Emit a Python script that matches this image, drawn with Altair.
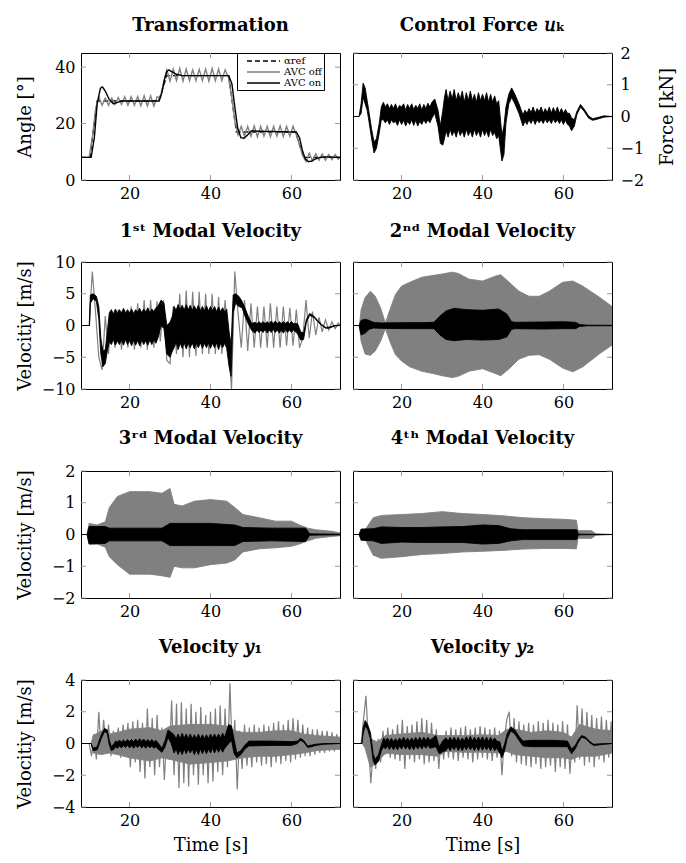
import altair as alt
import pandas as pd

# ----------------------------------------------------------------- data
def grid(start, step, n):
    return [round(start + step * i, 2) for i in range(n)]

# sampling grids of the oscillating "AVC off" traces
T08 = [8.0] + grid(10.0, 0.8, 78) + [72.0]
T06 = [8.0] + grid(10.0, 0.6, 104) + [72.0]

# --- Transformation (angle, deg)
ref_t = [8, 10.2, 12.0, 27.2, 29.2, 44.5, 46.4, 61.0, 63.0, 72]
ref_v = [8, 8, 28, 28, 37, 37, 17, 17, 8, 8]

ang_off = [8,
           8, 15, 25, 29.5, 26.5, 29, 26.5, 29, 26.8, 29.2,
           26.8, 29.5, 26.5, 29.5, 26.5, 29.6, 26.3, 29.8, 26.2, 29.8,
           26.2, 29.5, 29, 34.5, 39, 35, 39.3, 35.2, 39.5, 35,
           39.3, 35.2, 39, 35.2, 39.2, 35.3, 39.3, 35, 39.5, 35.2,
           39.3, 35.2, 39, 36.5, 30, 21, 16, 19, 15.5, 19,
           15.5, 19.2, 15.3, 19, 15.5, 19, 15.3, 19, 15.5, 19.2,
           15.4, 19, 15.5, 19, 16, 12.5, 8.5, 6.5, 9.5, 6.8,
           9.3, 7.0, 9.2, 7.0, 9.0, 7.2, 9.0, 7.3,
           8]

on_t = [8, 10.5, 11.3, 12.0, 12.8, 13.3, 14.0, 15.0, 16.0, 17.0, 18.0, 27.3, 28.0, 28.6, 29.2,
        29.7, 30.5, 31.5, 33.0, 44.5, 45.3, 46.0, 46.7, 47.5, 48.3, 49.2, 50.2, 51.5, 61.2,
        62.0, 62.7, 63.4, 64.2, 65.0, 66.0, 67.0, 68.5, 72]
on_v = [8, 8, 15, 27, 32.5, 33, 31.5, 28.5, 27, 27.5, 28, 28, 31, 35.5, 38.5,
        39, 38.3, 37.5, 37, 37, 34, 26, 18.5, 15, 14.8, 16, 17.5, 17.3, 17,
        15, 10.5, 7.5, 6.5, 6.7, 7.5, 8, 8.2, 8]

# --- Control force u_k (kN): rows of (time, lower, upper) of the AVC-on trace
uk_on = [
    (8, 0, 0), (9.5, 0, 0), (10.0, 0.1, 0.4), (10.5, 0.6, 1.05), (11.0, 0.4, 0.9),
    (11.5, 0.2, 0.5), (12.0, -0.2, 0.1), (12.6, -0.7, -0.4), (13.2, -1.15, -0.8),
    (13.8, -1.0, -0.7), (14.5, -0.5, -0.2), (15.0, -0.1, 0.3), (15.5, -0.1, 0.45),
    (16.0, -0.2, 0.3), (16.5, -0.1, 0.4), (17.0, -0.25, 0.25), (17.5, -0.1, 0.38),
    (18.0, -0.2, 0.25), (18.5, -0.15, 0.4), (19.0, -0.28, 0.22), (19.5, -0.1, 0.35),
    (20.0, -0.25, 0.3), (20.5, -0.12, 0.4), (21.0, -0.3, 0.2), (21.5, -0.15, 0.38),
    (22.0, -0.25, 0.25), (22.5, -0.1, 0.4), (23.0, -0.28, 0.22), (23.5, -0.12, 0.35),
    (24.0, -0.3, 0.25), (24.5, -0.15, 0.4), (25.0, -0.25, 0.2), (25.5, -0.1, 0.38),
    (26.0, -0.22, 0.25), (26.5, -0.1, 0.42), (27.0, -0.2, 0.3), (27.5, -0.05, 0.45),
    (28.2, 0.1, 0.55), (29.0, -0.3, 0.2), (29.6, -0.85, -0.3), (30.2, -0.9, 0.2),
    (30.6, -0.7, 0.6), (31.0, -0.45, 0.85), (31.5, -0.65, 0.5), (32.0, -0.4, 0.8),
    (32.5, -0.6, 0.55), (33.0, -0.45, 0.85), (33.5, -0.65, 0.5), (34.0, -0.4, 0.75),
    (34.5, -0.6, 0.55), (35.0, -0.45, 0.8), (35.5, -0.65, 0.45), (36.0, -0.4, 0.75),
    (36.5, -0.6, 0.5), (37.0, -0.45, 0.8), (37.5, -0.65, 0.5), (38.0, -0.4, 0.7),
    (38.5, -0.6, 0.45), (39.0, -0.45, 0.75), (39.5, -0.65, 0.5), (40.0, -0.4, 0.7),
    (40.5, -0.6, 0.5), (41.0, -0.45, 0.75), (41.5, -0.65, 0.45), (42.0, -0.4, 0.7),
    (42.5, -0.6, 0.45), (43.0, -0.5, 0.65), (43.5, -0.7, 0.4), (44.0, -0.6, 0.5),
    (44.8, -1.4, -0.6), (45.3, -1.2, -0.3), (45.8, -0.2, 0.3), (46.5, 0.4, 0.7),
    (47.2, 0.6, 0.9), (48.0, 0.4, 0.7), (49.0, 0.1, 0.4), (50.0, -0.3, 0.05),
    (50.5, -0.15, 0.2), (51.0, -0.25, 0.1), (51.5, -0.1, 0.25), (52.0, -0.22, 0.12),
    (52.5, -0.08, 0.3), (53.0, -0.25, 0.1), (53.5, -0.1, 0.25), (54.0, -0.2, 0.15),
    (54.5, -0.1, 0.3), (55.0, -0.22, 0.1), (55.5, -0.08, 0.25), (56.0, -0.2, 0.12),
    (56.5, -0.1, 0.3), (57.0, -0.22, 0.1), (57.5, -0.08, 0.28), (58.0, -0.2, 0.12),
    (58.5, -0.1, 0.3), (59.0, -0.22, 0.1), (59.5, -0.1, 0.25), (60.0, -0.25, 0.1),
    (60.5, -0.12, 0.22), (61.0, -0.25, 0.1), (61.5, -0.3, 0.1), (62.0, -0.45, -0.05),
    (62.7, -0.3, -0.1), (63.3, 0.05, 0.15), (64.2, 0.3, 0.38), (65.2, 0.15, 0.22),
    (66.2, -0.05, 0.02), (67.2, -0.12, -0.07), (68.5, -0.08, -0.03), (70, -0.02, 0.02),
    (72, 0, 0)]

# --- 1st modal velocity (m/s)
m1_off = [0,
          0, 8.5, 2, -5, -7, 1.5, -4.5, 2, -3.5, 2.5,
          -3.8, 2.5, -3.5, 3, -3.8, 3.5, -3.5, 4, -3.8, 4,
          -3.5, 3.8, -2.5, 4, -5.5, -6, 3, -4.5, 5, -5,
          5.5, -5, 5.3, -4.8, 5.3, -4.5, 5, -4.5, 5, -4.5,
          4.5, -4.5, 4, -3, -10, 8.5, 2, -3.5, 4, -4,
          3.5, -3.5, 3, -3.5, 3, -3.5, 3.5, -3.5, 3, -3.5,
          3, -3.2, 2.8, -3.2, 2.5, -3.5, -2, 4, -2, 2.2,
          -1.5, 1.3, -1, 0.9, -0.7, 0.6, -0.5, 0.4,
          0]
m1_on = [
    (8, 0, 0), (10.1, 0, 0), (10.3, 3.5, 4.8), (11.0, 4.2, 5.0), (11.8, 3.8, 4.6),
    (12.4, 1, 3), (12.9, -4.5, -2), (13.4, -6.5, -4), (14.0, -6, -3.8), (14.5, -4, -1),
    (15.0, -2.5, 2), (15.5, -3, 2.5), (16.0, -2.2, 1.8), (16.5, -3.1, 2.6),
    (17.0, -2.4, 1.9), (17.5, -3, 2.5), (18.0, -2.3, 2), (18.5, -3.1, 2.7),
    (19.0, -2.2, 1.9), (19.5, -3, 2.5), (20.0, -2.4, 2), (20.5, -3.2, 2.6),
    (21.0, -2.3, 1.9), (21.5, -3.1, 2.5), (22.0, -2.4, 2.1), (22.5, -3.2, 2.7),
    (23.0, -2.3, 2), (23.5, -3, 2.6), (24.0, -2.4, 2.1), (24.5, -3.1, 2.8),
    (25.0, -2.3, 2), (25.5, -3, 2.6), (26.0, -2.2, 2.2), (26.5, -2.8, 2.8),
    (27.0, -2, 3), (27.8, 0, 4), (28.5, -0.5, 3.5), (29.2, -4.5, 0), (30.0, -5, 0.5),
    (30.6, -4, 1.5), (31.0, -3.5, 3), (31.5, -2.6, 2.4), (32.0, -3.8, 3.3),
    (32.5, -2.8, 2.5), (33.0, -3.6, 3.2), (33.5, -2.7, 2.4), (34.0, -3.7, 3.3),
    (34.5, -2.8, 2.5), (35.0, -3.5, 3.2), (35.5, -2.7, 2.4), (36.0, -3.7, 3.1),
    (36.5, -2.8, 2.4), (37.0, -3.5, 3.2), (37.5, -2.7, 2.3), (38.0, -3.6, 3),
    (38.5, -2.8, 2.3), (39.0, -3.5, 3.1), (39.5, -2.7, 2.3), (40.0, -3.6, 3),
    (40.5, -2.8, 2.3), (41.0, -3.5, 3), (41.5, -2.7, 2.2), (42.0, -3.8, 2.9),
    (42.5, -2.8, 2.2), (43.0, -3.5, 2.8), (43.5, -2.8, 2.1), (44.0, -3.6, 2.6),
    (44.6, -6.5, -1), (45.1, -8, -3), (45.6, 2, 4.8), (46.2, 3.5, 5), (47.0, 3, 4.6),
    (47.8, 2.8, 3.8), (48.5, 1.5, 2.8), (49.3, 0.3, 1.5), (50.2, -0.8, 0.3),
    (51.0, -1.2, 0.5), (51.5, -0.7, 0.3), (52.0, -1.1, 0.6), (52.5, -0.7, 0.3),
    (53.0, -1.1, 0.6), (53.5, -0.6, 0.3), (54.0, -1.2, 0.6), (54.5, -0.7, 0.3),
    (55.0, -1.1, 0.7), (55.5, -0.6, 0.3), (56.0, -1.1, 0.7), (56.5, -0.7, 0.3),
    (57.0, -1.2, 0.6), (57.5, -0.7, 0.3), (58.0, -1.2, 0.6), (58.5, -0.6, 0.3),
    (59.0, -1.1, 0.6), (59.5, -0.7, 0.3), (60.0, -1.1, 0.6), (60.5, -0.7, 0.3),
    (61.5, -1.3, 0.3), (62.3, -2.3, -1), (63.0, -2.2, -1.2), (63.7, 0.5, 1),
    (64.5, 1.6, 1.9), (65.5, 1.3, 1.5), (66.5, 0.6, 0.8), (67.5, 0, 0.15),
    (68.5, -0.45, -0.3), (69.5, -0.4, -0.25), (70.5, -0.1, 0), (72, 0, 0.05)]

# --- 2nd modal velocity
m2_off = [
    (8, 0, 0), (9.6, 0, 0), (10, -2.5, 2.5), (11, -4.5, 4.4), (12.3, -4.7, 5.4),
    (13.5, -4.0, 4.6), (14.8, -2.5, 2.8), (16, -0.5, 0.4), (17.3, -2.8, 2.8),
    (18.5, -4.6, 4.9), (20, -5.6, 6.2), (22, -6.5, 6.8), (25, -7.2, 7.6), (28, -7.6, 7.9),
    (30, -7.9, 8.1), (32.5, -8.2, 8.4), (34, -8.0, 8.2), (36.7, -7.2, 7.3), (40, -6.8, 7.0),
    (43.3, -7.6, 7.8), (44.5, -7.9, 8.0), (46.6, -6.8, 6.8), (49, -5.3, 5.4),
    (51.5, -4.7, 4.6), (54, -4.6, 4.6), (56.5, -5.3, 5.4), (59.8, -6.7, 6.8),
    (62.3, -7.3, 7.0), (64.8, -6.5, 6.2), (69, -4.4, 4.4), (72, -3.1, 3.0)]
m2_on = [
    (8, 0, 0), (9.5, 0, 0), (10, -1.5, 0.8), (11, -1.2, 1.0), (12, -0.6, 0.8),
    (13, -0.4, 0.5), (15, -0.45, 0.4), (20, -0.5, 0.45), (25, -0.5, 0.45), (28, -0.5, 0.5),
    (29.5, -1.5, 1.5), (31, -2.2, 2.3), (33, -2.4, 2.7), (36, -2.2, 2.5), (40, -2.3, 2.4),
    (44, -2.2, 2.6), (46, -1.8, 1.8), (47.2, -0.6, 0.6), (48, -0.5, 0.5), (55, -0.55, 0.55),
    (60, -0.5, 0.6), (63, -0.5, 0.5), (64, -0.15, 0.15), (66, -0.05, 0.05),
    (72, -0.03, 0.03)]

# --- 3rd modal velocity
m3_off = [
    (8, 0, 0), (9.5, 0, 0), (10, -0.3, 0.35), (12, -0.3, 0.3), (14, -0.4, 0.4),
    (15, -0.7, 0.85), (17, -0.95, 1.2), (20, -1.25, 1.35), (25, -1.25, 1.35),
    (28, -1.3, 1.3), (30, -1.35, 1.45), (31, -1.0, 0.95), (33, -1.05, 0.9),
    (36, -1.05, 1.05), (40, -0.95, 1.1), (44, -0.9, 1.05), (46, -0.8, 0.85),
    (48, -0.55, 0.63), (52, -0.45, 0.53), (56, -0.42, 0.42), (60, -0.37, 0.42),
    (62, -0.3, 0.3), (64, -0.2, 0.2), (66, -0.12, 0.15), (70, -0.06, 0.1),
    (72, -0.04, 0.05)]
m3_on = [
    (8, 0, 0), (9.5, 0, 0), (10, -0.3, 0.25), (14, -0.28, 0.25), (15, -0.2, 0.2),
    (20, -0.2, 0.2), (28, -0.2, 0.2), (30, -0.35, 0.35), (35, -0.35, 0.35),
    (40, -0.35, 0.35), (46, -0.35, 0.3), (48, -0.22, 0.22), (55, -0.2, 0.2),
    (63.5, -0.22, 0.2), (64.5, -0.02, 0.02), (72, -0.01, 0.01)]

# --- 4th modal velocity
m4_off = [
    (8, 0, 0), (9.5, 0, 0), (10, -0.1, 0.1), (11, -0.15, 0.15), (13, -0.65, 0.53),
    (15, -0.75, 0.6), (20, -0.7, 0.63), (25, -0.63, 0.66), (30, -0.6, 0.72),
    (35, -0.55, 0.66), (40, -0.53, 0.63), (45, -0.5, 0.59), (50, -0.46, 0.53),
    (55, -0.44, 0.5), (60, -0.44, 0.48), (63.2, -0.45, 0.45), (63.6, -0.12, 0.12),
    (67, -0.12, 0.12), (68, -0.02, 0.02), (72, 0, 0)]
m4_on = [
    (8, 0, 0), (9.5, 0, 0), (10, -0.18, 0.17), (13, -0.2, 0.18), (15, -0.28, 0.24),
    (20, -0.24, 0.22), (25, -0.25, 0.22), (30, -0.25, 0.24), (35, -0.25, 0.25),
    (40, -0.3, 0.3), (44, -0.28, 0.28), (47, -0.2, 0.18), (50, -0.16, 0.15),
    (55, -0.16, 0.15), (60, -0.16, 0.15), (63.3, -0.16, 0.15), (63.7, -0.01, 0.01),
    (72, 0, 0)]

# --- Velocity y1
y1_off = [0,
          0, -0.8, 0.6, -1.0, 2.0, -0.6, 1.5, -0.3, 1.2, -0.8,
          0.8, -0.6, 1.0, -0.9, 1.2, -0.7, 1.3, -1.5, 1.4, -1.2,
          1.5, -1.8, 1.3, -2.2, 2.2, -1.5, 1.6, -2.0, 1.8, -1.5,
          1.0, -2.3, 0.8, -1.0, 2.7, -2.0, 2.5, -2.8, 2.6, -2.5,
          2.2, -2.7, 2.5, -2.0, 2.0, -2.6, 2.3, -2.0, 1.8, -2.5,
          2.0, -2.4, 2.2, -1.8, 2.4, -2.0, 2.2, -1.5, 3.8, -1.0,
          1.5, -2.9, 0.8, -1.6, 1.2, -1.4, 1.0, -1.5, 1.2, -1.2,
          1.0, -1.4, 1.2, -1.3, 1.1, -1.5, 1.3, -1.2, 1.4, -1.3,
          1.2, -1.1, 1.5, -1.2, 1.6, -1.0, 1.5, -0.9, 1.2, -0.8,
          1.0, -0.8, 0.9, -0.7, 0.9, -0.6, 0.8, -0.6, 0.8, -0.5,
          0.7, -0.5, 0.6, -0.4,
          0]
y1_off_core = [
    (8, 0, 0), (10.5, 0, 0), (11, -0.6, 0.5), (13, -0.7, 0.8), (15, -0.6, 0.6),
    (17, -0.7, 0.7), (20, -0.9, 0.9), (25, -1.1, 1.0), (28, -0.9, 0.8), (30, -1.0, 1.1),
    (35, -1.3, 1.2), (40, -1.2, 1.2), (44, -1.1, 1.1), (46, -1.0, 0.8), (48, -0.9, 0.7),
    (52, -0.8, 0.7), (56, -0.8, 0.8), (60, -0.7, 0.8), (63, -0.6, 0.6), (66, -0.45, 0.5),
    (72, -0.35, 0.4)]
y1_on = [
    (8, 0, 0), (10.5, 0, 0), (11, -0.45, -0.3), (12, -0.4, -0.2), (13, 0.3, 0.55),
    (13.8, 0.75, 0.95), (14.5, 0.65, 0.85), (15, -0.1, 0.2), (15.5, -0.45, -0.2),
    (16.2, -0.35, 0), (16.5, -0.2, 0.15), (17, -0.3, 0.1), (17.5, -0.15, 0.2),
    (18, -0.28, 0.1), (18.5, -0.12, 0.22), (19, -0.25, 0.1), (19.5, -0.1, 0.25),
    (20, -0.28, 0.12), (20.5, -0.12, 0.25), (21, -0.3, 0.1), (21.5, -0.12, 0.28),
    (22, -0.25, 0.12), (22.5, -0.1, 0.3), (23, -0.28, 0.12), (23.5, -0.12, 0.28),
    (24, -0.3, 0.1), (24.5, -0.12, 0.25), (25, -0.28, 0.1), (25.5, -0.15, 0.25),
    (26, -0.3, 0.08), (26.5, -0.2, 0.2), (27, -0.35, 0.05), (28, -0.55, -0.3),
    (28.8, -0.2, 0.2), (29.5, 0.4, 0.85), (30.3, 0, 0.7), (31, -0.6, 0.55),
    (31.5, -0.35, 0.3), (32, -0.7, 0.6), (32.5, -0.4, 0.3), (33, -0.7, 0.65),
    (33.5, -0.35, 0.35), (34, -0.65, 0.6), (34.5, -0.35, 0.3), (35, -0.6, 0.6),
    (35.5, -0.35, 0.3), (36, -0.7, 0.55), (36.5, -0.4, 0.3), (37, -0.7, 0.6),
    (37.5, -0.35, 0.3), (38, -0.65, 0.55), (38.5, -0.35, 0.3), (39, -0.65, 0.55),
    (39.5, -0.35, 0.3), (40, -0.6, 0.6), (40.5, -0.3, 0.35), (41, -0.6, 0.6),
    (41.5, -0.3, 0.35), (42, -0.55, 0.6), (42.5, -0.3, 0.35), (43, -0.55, 0.65),
    (43.5, -0.3, 0.4), (44.5, 0, 1.2), (45.2, 0.2, 1.1), (45.8, -0.6, 0.3),
    (46.5, -0.9, -0.6), (47.5, -0.7, -0.45), (48.5, -0.35, -0.1), (49.5, -0.15, 0.15),
    (50.5, -0.15, 0.15), (55, -0.12, 0.15), (60, -0.12, 0.12), (61.5, 0, 0.15),
    (62.2, 0.2, 0.33), (63, 0.1, 0.2), (64, -0.25, -0.15), (65, -0.2, -0.1),
    (66, -0.12, -0.05), (68, -0.05, 0), (72, 0, 0)]

# --- Velocity y2
y2_off = [0,
          0, 1.5, 3.0, 0.2, -2.5, -0.5, -1.6, 0.3, -1.2, 0.8,
          -0.7, 1.0, -0.9, 0.9, -1.0, 1.2, -1.1, 1.5, -1.6, 1.1,
          -1.0, 1.2, -1.2, 1.4, -1.0, 1.6, -1.3, 1.5, -1.2, 1.3,
          -1.1, 0.9, -1.6, 0.5, -1.0, 0.8, -0.9, 1.0, -1.0, 0.9,
          -1.1, 1.0, -0.9, 1.1, -1.0, 0.9, -1.2, 1.0, -1.0, 1.1,
          -0.9, 1.0, -1.0, 0.9, -1.1, 1.0, -0.9, 0.8, -2.0, 0.3,
          1.5, 2.0, -0.8, 1.6, -1.2, 1.4, -1.3, 1.2, -1.4, 1.3,
          -1.5, 1.2, -1.3, 1.4, -1.6, 1.3, -1.5, 1.5, -1.4, 1.3,
          -1.8, 1.2, -1.5, 1.4, -1.6, 1.2, -1.9, 0.5, -1.2, 2.4,
          -1.0, 2.2, -1.4, 2.0, -1.2, 1.8, -1.5, 1.6, -1.0, 1.7,
          -1.2, 1.5, -0.9, 1.4,
          0]
y2_off_core = [
    (8, 0, 0), (10.3, 0, 0), (11, -0.3, 1.2), (12.3, -1.5, 0.3), (14, -1.2, 0.1),
    (16, -0.6, 0.5), (20, -0.7, 0.6), (25, -0.7, 0.7), (29, -0.8, 0.5), (31, -0.5, 0.5),
    (35, -0.55, 0.5), (40, -0.55, 0.55), (44, -0.6, 0.5), (46, -0.5, 0.9), (48, -0.7, 0.9),
    (52, -0.8, 0.7), (56, -0.9, 0.8), (60, -0.9, 0.7), (62, -1.0, 0.4), (64, -0.8, 1.2),
    (68, -0.8, 0.9), (72, -0.6, 0.8)]
y2_on = [
    (8, 0, 0), (10.2, 0, 0), (10.5, 0.6, 1.0), (11, 1.1, 1.45), (11.6, 0.9, 1.2),
    (12.3, 0.3, 0.7), (13, -1.1, -0.7), (13.5, -1.35, -1.0), (14.3, -1.1, -0.7),
    (15, -0.45, -0.1), (15.6, -0.2, 0.35), (16, -0.35, 0.15), (16.5, -0.15, 0.35),
    (17, -0.38, 0.12), (17.5, -0.15, 0.32), (18, -0.4, 0.1), (18.5, -0.18, 0.3),
    (19, -0.4, 0.12), (19.5, -0.15, 0.35), (20, -0.35, 0.15), (20.5, -0.12, 0.4),
    (21, -0.35, 0.15), (21.5, -0.15, 0.35), (22, -0.4, 0.12), (22.5, -0.15, 0.35),
    (23, -0.4, 0.15), (23.5, -0.12, 0.38), (24, -0.35, 0.15), (24.5, -0.12, 0.4),
    (25, -0.35, 0.15), (25.5, -0.12, 0.4), (26, -0.3, 0.18), (26.5, -0.1, 0.4),
    (27, -0.3, 0.2), (28.5, -0.2, 0.5), (29.3, -0.65, -0.2), (30.3, -0.5, 0.2),
    (31, -0.45, 0.35), (31.5, -0.2, 0.15), (32, -0.45, 0.4), (32.5, -0.2, 0.15),
    (33, -0.4, 0.4), (33.5, -0.15, 0.15), (34, -0.45, 0.38), (34.5, -0.2, 0.12),
    (35, -0.45, 0.35), (35.5, -0.18, 0.15), (36, -0.4, 0.42), (36.5, -0.15, 0.18),
    (37, -0.4, 0.45), (37.5, -0.2, 0.15), (38, -0.45, 0.4), (38.5, -0.18, 0.15),
    (39, -0.45, 0.4), (39.5, -0.15, 0.18), (40, -0.42, 0.42), (40.5, -0.18, 0.15),
    (41, -0.4, 0.4), (41.5, -0.2, 0.12), (42, -0.45, 0.38), (42.5, -0.18, 0.15),
    (43, -0.45, 0.35), (43.5, -0.3, 0.15), (44.3, -0.6, 0.1), (44.8, -0.9, -0.5),
    (45.4, -0.5, -0.1), (46.1, 0.3, 0.6), (47, 0.8, 1.05), (48, 0.6, 0.85),
    (49, 0.2, 0.45), (50, -0.15, 0.15), (52, -0.2, 0.2), (55, -0.2, 0.2), (58, -0.2, 0.2),
    (61, -0.2, 0.15), (62, -0.65, -0.35), (63, -0.3, -0.1), (63.6, 0.05, 0.2),
    (64.5, 0.4, 0.5), (65.5, 0.3, 0.4), (66.5, 0.05, 0.12), (67.5, -0.12, -0.05),
    (69, -0.08, -0.02), (72, 0, 0)]

# ----------------------------------------------------------------- style
W, H = 259, 127
GRAY = "#808080"
TICK = "#9a9a9a"
SERIF = "DejaVu Serif"
SERIES = ["αref", "AVC off", "AVC on"]
LAB = 16      # tick label size
TTL = 18      # axis title size


def line_df(t, v):
    assert len(t) == len(v)
    return pd.DataFrame({"t": t, "v": v})


def band_df(rows):
    return pd.DataFrame(rows, columns=["t", "lo", "hi"])


def panel(layers, title, toff, ydom, yticks, yside, ytitle=None, xtitle=None):
    xsc = alt.Scale(domain=[8, 72], nice=False, zero=False)
    ysc = alt.Scale(domain=ydom, nice=False, zero=False)
    common = dict(labelFont=SERIF, labelFontSize=LAB, labelColor="black",
                  titleFont=SERIF, titleFontSize=TTL, titleFontWeight="normal",
                  titleColor="black", ticks=False, tickSize=0, domain=False, grid=False)
    xax = alt.Axis(values=[20, 40, 60], title=xtitle, labelPadding=5, titlePadding=8,
                   **common)
    if yside == "left":
        yax = alt.Axis(orient="left", values=yticks, title=ytitle, labelPadding=6,
                       titleX=-47, titleY=H / 2, titleAngle=270, titleBaseline="bottom",
                       titleAlign="center", **common)
    elif yside == "right":
        yax = alt.Axis(orient="right", values=yticks, title=ytitle, labelPadding=8,
                       labelAlign="left", titleX=46, titleY=H / 2, titleAngle=270,
                       titleBaseline="top", titleAlign="center", **common)
    else:
        yax = None

    def X(f):
        return alt.X(f"{f}:Q", scale=xsc, axis=xax)

    def Y(f):
        return alt.Y(f"{f}:Q", scale=ysc, axis=yax)

    xt = pd.DataFrame({"t": [20, 40, 60]})
    yt = pd.DataFrame({"v": yticks})
    charts = [
        alt.Chart(xt).mark_rule(color=TICK, strokeWidth=1).encode(
            x=X("t"), y=alt.value(0), y2=alt.value(5)),
        alt.Chart(xt).mark_rule(color=TICK, strokeWidth=1).encode(
            x=X("t"), y=alt.value(H), y2=alt.value(H - 5)),
        alt.Chart(yt).mark_rule(color=TICK, strokeWidth=1).encode(
            y=Y("v"), x=alt.value(0), x2=alt.value(5)),
        alt.Chart(yt).mark_rule(color=TICK, strokeWidth=1).encode(
            y=Y("v"), x=alt.value(W), x2=alt.value(W - 5)),
    ]
    for kind, df, color, extra in layers:
        if kind == "area":
            charts.append(alt.Chart(df).mark_area(
                color=color, stroke=color, strokeWidth=0.9, clip=True).encode(
                x=X("t"), y=Y("lo"), y2=alt.Y2("hi")))
        elif kind == "line":
            charts.append(alt.Chart(df).mark_line(
                color=color, strokeWidth=1.2, clip=True).encode(x=X("t"), y=Y("v")))
        elif kind == "legend":
            leg = alt.Legend(title=None, orient="none", legendX=W - 103, legendY=0,
                             symbolType="M-3.3,0H3.3", symbolSize=100,
                             symbolStrokeWidth=1.5, symbolOffset=18.5,
                             labelFont=SERIF, labelFontSize=10, labelColor="black",
                             labelExpr="datum.label + '\u00a0\u00a0\u00a0\u00a0\u00a0'",
                             fillColor="white", strokeColor="black",
                             padding=2, rowPadding=-1.5, labelOffset=14.5)
            d = df.assign(s=extra)
            charts.append(alt.Chart(d).mark_line(strokeWidth=1.4, clip=True).encode(
                x=X("t"), y=Y("v"),
                color=alt.Color("s:N", scale=alt.Scale(domain=SERIES,
                                range=["black", GRAY, "black"]), legend=leg),
                strokeDash=alt.StrokeDash("s:N", scale=alt.Scale(domain=SERIES,
                                range=[[5, 3], [1, 0], [1, 0]]), legend=leg)))
    return alt.layer(*charts).properties(
        width=W, height=H, title=alt.TitleParams(title, offset=toff))


# title offsets: distance of the title above the panel; reduced by the half label
# height where a tick label sits on the top edge of the panel
p1 = panel([("legend", line_df(ref_t, ref_v), None, "αref"),
            ("legend", line_df(T08, ang_off), None, "AVC off"),
            ("legend", line_df(on_t, on_v), None, "AVC on")],
           "Transformation", 18, [0, 45], [0, 20, 40], "left", ytitle="Angle [°]")
p2 = panel([("area", band_df(uk_on), "black", None)],
           "Control Force 𝑢ₖ", 10, [-2, 2], [-2, -1, 0, 1, 2], "right", ytitle="Force [kN]")
p3 = panel([("line", line_df(T08, m1_off), GRAY, None),
            ("area", band_df(m1_on), "black", None)],
           "1ˢᵗ Modal Velocity", 13, [-10, 10], [-10, -5, 0, 5, 10], "left",
           ytitle="Velocitiy [m/s]")
p4 = panel([("area", band_df(m2_off), GRAY, None),
            ("area", band_df(m2_on), "black", None)],
           "2ⁿᵈ Modal Velocity", 21, [-10, 10], [-10, -5, 0, 5, 10], "none")
p5 = panel([("area", band_df(m3_off), GRAY, None),
            ("area", band_df(m3_on), "black", None)],
           "3ʳᵈ Modal Velocity", 15, [-2, 2], [-2, -1, 0, 1, 2], "left",
           ytitle="Velocitiy [m/s]")
p6 = panel([("area", band_df(m4_off), GRAY, None),
            ("area", band_df(m4_on), "black", None)],
           "4ᵗʰ Modal Velocity", 23, [-2, 2], [-2, -1, 0, 1, 2], "none")
p7 = panel([("area", band_df(y1_off_core), GRAY, None),
            ("line", line_df(T06, y1_off), GRAY, None),
            ("area", band_df(y1_on), "black", None)],
           "Velocity 𝑦₁", 15, [-4, 4], [-4, -2, 0, 2, 4], "left",
           ytitle="Velocitiy [m/s]", xtitle="Time [s]")
p8 = panel([("area", band_df(y2_off_core), GRAY, None),
            ("line", line_df(T06, y2_off), GRAY, None),
            ("area", band_df(y2_on), "black", None)],
           "Velocity 𝑦₂", 23, [-4, 4], [-4, -2, 0, 2, 4], "none", xtitle="Time [s]")

chart = alt.concat(p1, p2, p3, p4, p5, p6, p7, p8, columns=2,
                   spacing={"row": 82, "column": 13}, bounds="flush").properties(
    padding={"left": 7, "top": 8, "right": 0, "bottom": 0}
).configure_view(stroke="black", strokeWidth=1).configure_title(
    font=SERIF, fontSize=18, fontWeight="bold", color="black", anchor="middle",
    baseline="alphabetic"
)

chart.save("out.html", embed_options={"renderer": "svg", "actions": False})
